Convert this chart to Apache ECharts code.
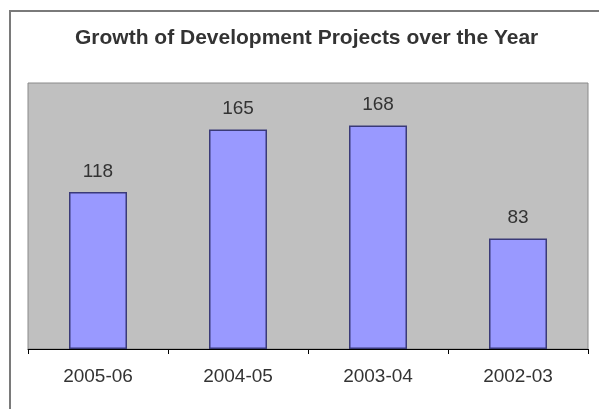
<!DOCTYPE html>
<html>
<head>
<meta charset="utf-8">
<script src="https://cdn.jsdelivr.net/npm/echarts@6/dist/echarts.min.js"></script>
<style>html,body{margin:0;padding:0;background:#fff}#c{width:599px;height:409px}</style>
</head>
<body>
<div id="c"></div>
<script>
const titleText = 'Growth of Development Projects over the Year';
const categories = ['2005-06', '2004-05', '2003-04', '2002-03'];
const projects = [118, 165, 168, 83];

const chart = echarts.init(document.getElementById('c'), null, {renderer: 'canvas'});
chart.setOption({
  backgroundColor: '#ffffff',
  animation: false,
  title: {
    text: titleText,
    left: 75,
    top: 28,
    padding: 0,
    textStyle: {fontFamily: 'Liberation Sans, Arial, sans-serif', fontSize: 21, fontWeight: 'bold', color: '#333333'}
  },
  graphic: [{
    type: 'rect',
    shape: {x: 10, y: 11, width: 600, height: 420},
    style: {fill: 'none', stroke: '#7a7a7a', lineWidth: 2},
    z: -1
  }],
  grid: {
    left: 28, right: 11, top: 83, bottom: 60,
    show: true, backgroundColor: '#c0c0c0', borderColor: '#8a8a8a', borderWidth: 1
  },
  xAxis: {
    type: 'category',
    data: categories,
    axisLine: {show: true, lineStyle: {color: '#000000', width: 1}},
    axisTick: {show: true, length: 5, lineStyle: {color: '#000000'}},
    axisLabel: {margin: 18, fontFamily: 'Liberation Sans, Arial, sans-serif', fontSize: 19, color: '#333333'}
  },
  yAxis: {
    type: 'value', min: 0, max: 200, interval: 50,
    show: false, splitLine: {show: false}
  },
  series: [{
    type: 'bar',
    data: projects,
    barWidth: 58,
    itemStyle: {color: '#9999ff', borderColor: '#3a3a78', borderWidth: 1.5},
    label: {
      show: true, position: 'top', distance: 11,
      fontFamily: 'Liberation Sans, Arial, sans-serif', fontSize: 19, color: '#333333'
    }
  }]
});
</script>
</body>
</html>
